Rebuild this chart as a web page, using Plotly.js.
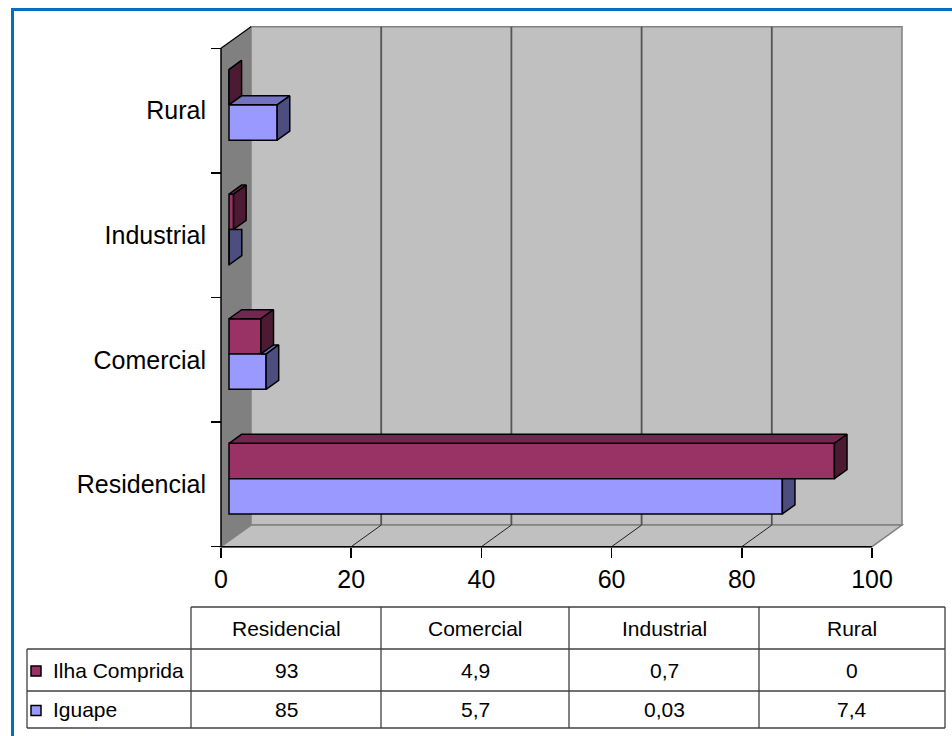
<!DOCTYPE html>
<html>
<head>
<meta charset="utf-8">
<script src="https://cdn.plot.ly/plotly-3.0.1.min.js"></script>
<style>
html,body{margin:0;padding:0;background:#ffffff;}
#chart{width:952px;height:736px;}
</style>
</head>
<body>
<div id="chart"></div>
<script>
// ---------------- data ----------------
const categories = ['Residencial', 'Comercial', 'Industrial', 'Rural'];
const seriesNames = ['Ilha Comprida', 'Iguape'];
const ilhaComprida = [93, 4.9, 0.7, 0];
const iguape = [85, 5.7, 0.03, 7.4];
const xTickValues = [0, 20, 40, 60, 80, 100];

// ---------------- geometry (pixels -> axis units) ----------------
const W = 952, H = 736;
const PX_PER_X = 6.51, X_ORIGIN_PX = 221;
const PX_PER_CAT = 124.6, FLOOR_PX = 546.7;
const xRange = [-X_ORIGIN_PX / PX_PER_X, (W - X_ORIGIN_PX) / PX_PER_X];
const yRange = [(FLOOR_PX - H) / PX_PER_CAT - 0.5, FLOOR_PX / PX_PER_CAT - 0.5];
const KX = 30 / PX_PER_X, KY = 21.6 / PX_PER_CAT;   // full wall depth
const D_BAR = 8 / 30, D_DEPTH = 0.42;               // bar front depth, bar thickness
const X0 = D_BAR * KX, Y_SHIFT = D_BAR * KY;
const DX = D_DEPTH * KX, DY = D_DEPTH * KY;
const BAR_W = 35.3 / PX_PER_CAT;
const yPos = categories.map((c, i) => i);
const X_MAX = xTickValues[xTickValues.length - 1];
const Y_LO = -0.5, Y_HI = categories.length - 0.5;

const COL = {
  ilhaFront: '#993366', ilhaTop: '#732650', ilhaSide: '#4d1a33',
  igFront: '#9999ff', igTop: '#7373bf', igSide: '#4d4d80',
  wall: '#c0c0c0', sideWall: '#808080', edge: '#808080'
};
const FONT = 'Arial, "Liberation Sans", sans-serif';

// ---------------- traces ----------------
const traces = [];
traces.push({
  type: 'bar', orientation: 'h', name: seriesNames[0],
  y: yPos, x: ilhaComprida, base: X0, width: BAR_W, offset: Y_SHIFT,
  marker: {color: COL.ilhaFront, line: {color: '#000', width: 1.5}},
  hoverinfo: 'x+name', showlegend: false
});
traces.push({
  type: 'bar', orientation: 'h', name: seriesNames[1],
  y: yPos, x: iguape, base: X0, width: BAR_W, offset: Y_SHIFT - BAR_W,
  marker: {color: COL.igFront, line: {color: '#000', width: 1.5}},
  hoverinfo: 'x+name', showlegend: false
});

function face(pts, color) {
  const xs = pts.map(p => p[0]); const ys = pts.map(p => p[1]);
  xs.push(pts[0][0]); ys.push(pts[0][1]);
  traces.push({
    type: 'scatter', mode: 'lines', x: xs, y: ys, fill: 'toself',
    fillcolor: color, line: {color: '#000', width: 1.5},
    hoverinfo: 'skip', showlegend: false
  });
}

yPos.forEach((c, i) => {
  const a = ilhaComprida[i], b = iguape[i];
  const ym = c + Y_SHIFT;           // boundary between both bars
  const yt = ym + BAR_W;            // top of Ilha Comprida bar
  const yb = ym - BAR_W;            // bottom of Iguape bar
  // Ilha Comprida top + side
  face([[X0, yt], [X0 + a, yt], [X0 + a + DX, yt + DY], [X0 + DX, yt + DY]], COL.ilhaTop);
  face([[X0 + a, ym], [X0 + a + DX, ym + DY], [X0 + a + DX, yt + DY], [X0 + a, yt]], COL.ilhaSide);
  // Iguape top (only visible part) + side
  if (b > a) {
    face([[X0 + a, ym], [X0 + b, ym], [X0 + b + DX, ym + DY], [X0 + a + DX, ym + DY]], COL.igTop);
    face([[X0 + b, yb], [X0 + b + DX, yb + DY], [X0 + b + DX, ym + DY], [X0 + b, ym]], COL.igSide);
  } else {
    face([[X0 + b, yb], [X0 + b + DX, yb + DY], [X0 + b + DX, ym], [X0 + b, ym]], COL.igSide);
  }
});

// ---------------- walls (shapes in axis units) ----------------
const shapes = [];
function path(pts) { return 'M' + pts.map(p => p[0] + ',' + p[1]).join(' L') + ' Z'; }
function line(x0, y0, x1, y1, color, width, ref) {
  shapes.push({type: 'line', xref: ref ? 'paper' : 'x', yref: ref ? 'paper' : 'y',
    x0: x0, y0: y0, x1: x1, y1: y1, line: {color: color, width: width}, layer: ref ? 'above' : 'below'});
}
// left wall
shapes.push({type: 'path', xref: 'x', yref: 'y', layer: 'below',
  path: path([[0, Y_LO], [0, Y_HI], [KX, Y_HI + KY], [KX, Y_LO + KY]]),
  fillcolor: COL.sideWall, line: {width: 0}});
// back wall
shapes.push({type: 'rect', xref: 'x', yref: 'y', layer: 'below',
  x0: KX, x1: X_MAX + KX, y0: Y_LO + KY, y1: Y_HI + KY,
  fillcolor: COL.wall, line: {color: COL.edge, width: 1.5}});
// floor
shapes.push({type: 'path', xref: 'x', yref: 'y', layer: 'below',
  path: path([[0, Y_LO], [X_MAX, Y_LO], [X_MAX + KX, Y_LO + KY], [KX, Y_LO + KY]]),
  fillcolor: COL.wall, line: {color: COL.edge, width: 1.5}});
// gridlines on back wall and floor
xTickValues.forEach(v => {
  if (v > 0 && v < X_MAX) {
    line(v + KX, Y_LO + KY, v + KX, Y_HI + KY, '#555555', 1.8);
    line(v, Y_LO, v + KX, Y_LO + KY, '#222222', 1);
  }
});
// edges
line(0, Y_LO, X_MAX, Y_LO, '#000', 1.5);
line(0, Y_LO, 0, Y_HI, '#000', 1.5);
line(0, Y_HI, KX, Y_HI + KY, '#000', 1.2);

// ---------------- outer border + data table (paper units) ----------------
const px = x => x / W, py = y => 1 - y / H;
shapes.push({type: 'rect', xref: 'paper', yref: 'paper', layer: 'above',
  x0: px(12.5), x1: px(975), y0: py(9.5), y1: py(760),
  line: {color: '#0070c0', width: 3}, fillcolor: 'rgba(0,0,0,0)'});

const tCols = [191, 381, 569, 759, 945];
const tRows = [607, 649, 691, 728];
const tLeft = 27;
const tLine = '#404040';
line(px(tCols[0]), py(tRows[0]), px(tCols[4]), py(tRows[0]), tLine, 1.3, true);
[1, 2, 3].forEach(r => line(px(tLeft), py(tRows[r]), px(tCols[4]), py(tRows[r]), tLine, 1.3, true));
line(px(tLeft), py(tRows[1]), px(tLeft), py(tRows[3]), tLine, 1.3, true);
tCols.forEach(c => line(px(c), py(tRows[0]), px(c), py(tRows[3]), tLine, 1.3, true));

const annotations = [];
function txt(x, y, s, anchor) {
  annotations.push({xref: 'paper', yref: 'paper', x: px(x), y: py(y), text: s,
    showarrow: false, xanchor: anchor || 'center', yanchor: 'middle',
    font: {family: FONT, size: 21, color: '#000'}});
}
const fmt = v => String(v).replace('.', ',');
categories.forEach((c, i) => {
  const cx = (tCols[i] + tCols[i + 1]) / 2;
  txt(cx, (tRows[0] + tRows[1]) / 2, c);
  txt(cx, (tRows[1] + tRows[2]) / 2, fmt(ilhaComprida[i]));
  txt(cx, (tRows[2] + tRows[3]) / 2, fmt(iguape[i]));
});
const legendFill = [COL.ilhaFront, COL.igFront];
seriesNames.forEach((s, k) => {
  const cy = (tRows[1 + k] + tRows[2 + k]) / 2 + 1;
  shapes.push({type: 'rect', xref: 'paper', yref: 'paper', layer: 'above',
    x0: px(31), x1: px(41), y0: py(cy - 5), y1: py(cy + 5),
    fillcolor: legendFill[k], line: {color: '#000', width: 1.5}});
  txt(51, cy - 1, s, 'left');
});

// ---------------- layout ----------------
const layout = {
  width: W, height: H,
  margin: {l: 0, r: 0, t: 0, b: 0, pad: 0},
  paper_bgcolor: '#ffffff', plot_bgcolor: 'rgba(0,0,0,0)',
  barmode: 'overlay', showlegend: false,
  font: {family: FONT, color: '#000'},
  xaxis: {
    domain: [0, 1], range: xRange, fixedrange: true,
    anchor: 'free', position: 1 - FLOOR_PX / H,
    tickmode: 'array', tickvals: xTickValues, ticktext: xTickValues.map(String),
    ticks: 'outside', ticklen: 10, tickwidth: 1.5, tickcolor: '#000',
    showgrid: false, zeroline: false, showline: false,
    tickfont: {family: FONT, size: 25, color: '#000'}
  },
  yaxis: {
    domain: [0, 1], range: yRange, fixedrange: true,
    anchor: 'free', position: X_ORIGIN_PX / W, side: 'left',
    tickmode: 'array', tickvals: yPos, ticktext: categories,
    ticks: 'outside', ticklen: 10, tickcolor: 'rgba(0,0,0,0)',
    minor: {tickmode: 'array', tickvals: yPos.concat([yPos.length]).map(v => v - 0.5),
      ticks: 'outside', ticklen: 10, tickwidth: 1.5, tickcolor: '#000', showgrid: false},
    showgrid: false, zeroline: false, showline: false,
    tickfont: {family: FONT, size: 25, color: '#000'}
  },
  shapes: shapes, annotations: annotations
};

Plotly.newPlot('chart', traces, layout, {displayModeBar: false, staticPlot: true});
</script>
</body>
</html>
